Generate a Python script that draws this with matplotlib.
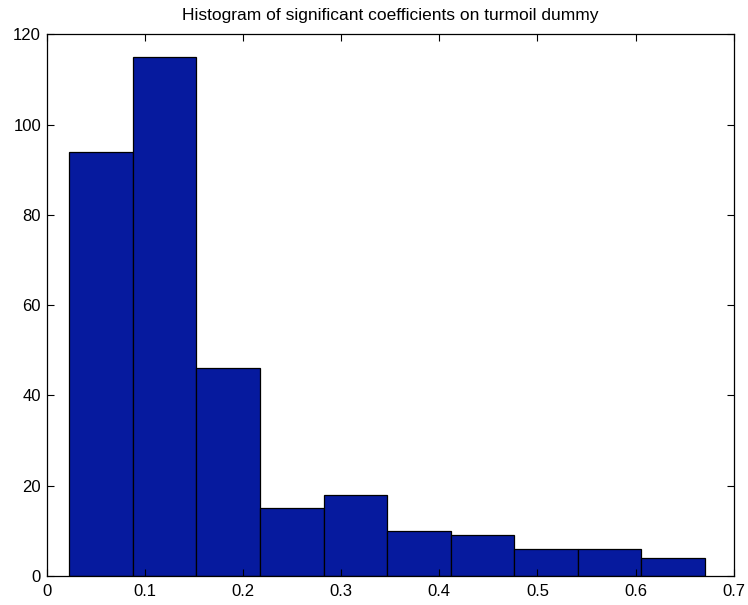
import matplotlib
matplotlib.use("Agg")
import matplotlib.pyplot as plt
import numpy as np

# histogram bins (10 equal bins between min and max of the data)
bin_lo = 0.0229
bin_hi = 0.6708
counts = [94, 115, 46, 15, 18, 10, 9, 6, 6, 4]

x_ticks = [0, 0.1, 0.2, 0.3, 0.4, 0.5, 0.6, 0.7]
x_labels = ["0", "0.1", "0.2", "0.3", "0.4", "0.5", "0.6", "0.7"]
y_ticks = [0, 20, 40, 60, 80, 100, 120]

title = "Histogram of significant coefficients on turmoil dummy"

plt.rcParams["font.family"] = ["Liberation Sans", "DejaVu Sans"]

fig = plt.figure(figsize=(7.48, 6.05), dpi=100)
ax = fig.add_axes([0.0624, 0.0479, 0.9185, 0.8954])

edges = np.linspace(bin_lo, bin_hi, len(counts) + 1)
ax.bar(edges[:-1], counts, width=np.diff(edges), align="edge",
       color="#061A9E", edgecolor="black", linewidth=0.9)

ax.set_xlim(0, 0.7)
ax.set_ylim(0, 120)
ax.set_xticks(x_ticks)
ax.set_xticklabels(x_labels)
ax.set_yticks(y_ticks)
ax.tick_params(direction="in", top=True, right=True, length=5, width=0.8,
               labelsize=12)
ax.tick_params(axis="x", pad=6)
ax.tick_params(axis="y", pad=4)
for s in ax.spines.values():
    s.set_linewidth(0.9)

ax.set_title(title, fontsize=12.5, pad=10)

fig.savefig("out.png", dpi=100)
